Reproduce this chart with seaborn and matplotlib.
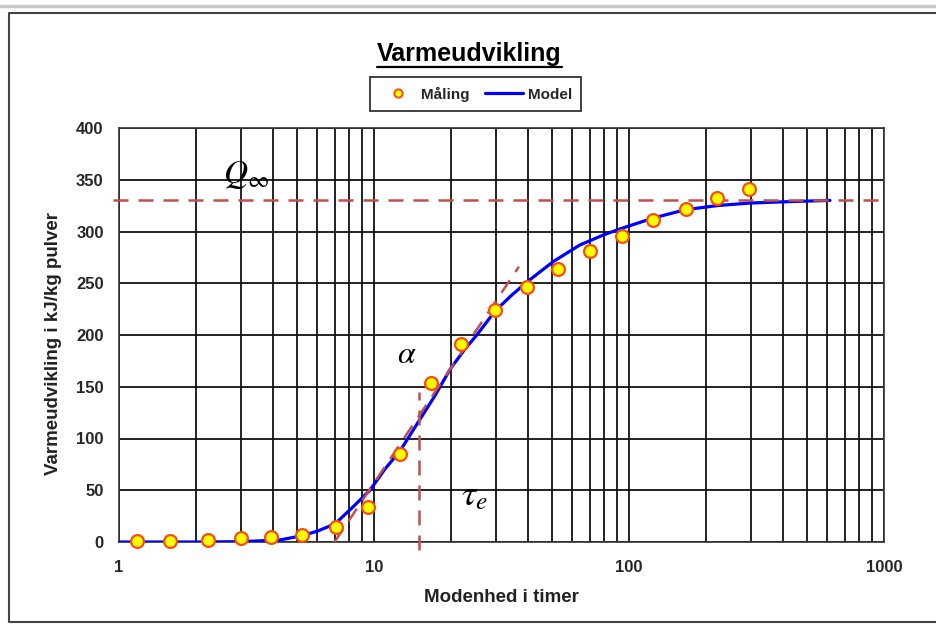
import matplotlib
matplotlib.use("Agg")
import matplotlib.pyplot as plt
from matplotlib.lines import Line2D
from matplotlib.ticker import LogLocator, FixedLocator, NullFormatter
import numpy as np
import pandas as pd
import seaborn as sns

# Measured heat development (maturity in hours, kJ/kg powder)
maling_t = [1.18, 1.58, 2.24, 3.0, 3.93, 5.23, 7.1, 9.45, 12.6, 16.7, 21.9,
            29.8, 39.7, 52.8, 70.3, 93.5, 124.5, 167, 222, 296]
maling_q = [1, 1, 2, 4, 5, 7, 14.5, 34, 85, 154, 191,
            224, 246, 264, 281, 296, 311, 322, 332, 341]

# Fitted model curve
model_t = [1.0, 2.0, 3.0, 4.28, 5.2, 6.0, 7.03, 8.2, 9.64, 11.0, 12.65, 15.1,
           17.3, 19.9, 22.5, 25.3, 29.8, 34.5, 39.7, 50.5, 64.2, 80, 93.5,
           124.5, 166, 221, 298, 441, 614]
model_q = [0, 0, 0.3, 2, 6, 10.5, 17.5, 33, 50, 70, 88, 118,
           141, 167, 185, 200, 223, 238, 251, 271, 287, 297, 303,
           313, 321, 325, 327.5, 329, 330]

# Model parameters shown as construction lines
q_inf = 330
tau_e = 15
tangent_t = [7.0, 37.0]
tangent_q = [0, 266]

sns.set_theme(style="white")
plt.rcParams["font.family"] = ["Liberation Sans", "DejaVu Sans"]
plt.rcParams["mathtext.fontset"] = "stix"

W, H = 937, 626
fig = plt.figure(figsize=(W / 100, H / 100), dpi=100)
ax = fig.add_axes([119 / W, 1 - 542 / H, (884 - 119) / W, (542 - 128) / H])

df_model = pd.DataFrame({"t": model_t, "q": model_q})
df_maal = pd.DataFrame({"t": maling_t, "q": maling_q})

ax.set_xscale("log")
sns.lineplot(data=df_model, x="t", y="q", ax=ax, color="#0000FF", lw=2.3,
             sort=False, zorder=3, legend=False)

dash_col = "#C0504D"
ax.plot([0.95, 1000], [q_inf, q_inf], color=dash_col, lw=1.8,
        dashes=(6, 4), zorder=4, clip_on=False)
ax.plot([tau_e, tau_e], [-8, 145], color=dash_col, lw=1.8,
        dashes=(6, 4), zorder=4, clip_on=False)
ax.plot(tangent_t, tangent_q, color=dash_col, lw=1.8,
        dashes=(6, 4), zorder=4, clip_on=False)

sns.scatterplot(data=df_maal, x="t", y="q", ax=ax, marker="o", s=85,
                color="#FFFF00", edgecolor="#FF4A10", linewidth=1.6,
                zorder=5, legend=False, clip_on=False)

ax.set_xlim(1, 1000)
ax.set_ylim(0, 400)
ax.set_yticks(np.arange(0, 401, 50))
ax.xaxis.set_major_locator(FixedLocator([1, 10, 100, 1000]))
ax.set_xticklabels(["1", "10", "100", "1000"])
ax.xaxis.set_minor_locator(LogLocator(base=10, subs=np.arange(2, 10)))
ax.xaxis.set_minor_formatter(NullFormatter())

ax.grid(True, which="both", axis="x", color="#111111", lw=1.3)
ax.grid(True, which="major", axis="y", color="#111111", lw=1.3)
ax.set_axisbelow(True)
for s in ax.spines.values():
    s.set_color("#333333")
    s.set_linewidth(1.2)

ax.tick_params(axis="both", which="both", length=0)
ax.tick_params(axis="x", pad=13, labelsize=12)
ax.tick_params(axis="y", pad=11, labelsize=12)
for lab in ax.get_xticklabels() + ax.get_yticklabels():
    lab.set_fontweight("bold")

ax.set_xlabel("Modenhed i timer", fontsize=13.5, fontweight="bold",
              color="#222222", labelpad=10)
ax.set_ylabel("Varmeudvikling i kJ/kg pulver", fontsize=13.5,
              fontweight="bold", color="#222222")
ax.yaxis.set_label_coords(-0.0745, 0.48)

# Symbols of the model
ax.text(2.56, 347, r"$Q_\infty$", fontsize=24, color="black", zorder=6)
ax.text(12.3, 173, r"$\alpha$", fontsize=23, color="black", zorder=6)
ax.text(22.0, 36, r"$\tau_e$", fontsize=26, color="black", zorder=6)

# Legend
handles = [
    Line2D([], [], ls="none", marker="o", markersize=6,
           markerfacecolor="#FFFF00", markeredgecolor="#FF4A10",
           markeredgewidth=1.4, label="Måling"),
    Line2D([], [], color="#0000FF", lw=2.3, label="Model"),
]
leg = fig.legend(handles=handles, loc="center", bbox_to_anchor=(475.5 / W, 1 - 94 / H),
                 ncol=2, frameon=True, fancybox=False, edgecolor="black",
                 handlelength=2.5, handletextpad=0.3, columnspacing=1.0,
                 borderpad=0.6, prop={"weight": "bold", "size": 11})
leg.get_frame().set_linewidth(1.3)

# Title with underline
title = fig.text(469.5 / W, 1 - 60.7 / H, "Varmeudvikling", fontsize=18,
                 fontweight="bold", ha="center", va="baseline", color="black")
fig.canvas.draw()
bb = title.get_window_extent().transformed(fig.transFigure.inverted())
fig.add_artist(Line2D([bb.x0, bb.x1], [1 - 66.5 / H] * 2, color="black",
                      lw=1.6, transform=fig.transFigure))

# Outer frame
fig.add_artist(Line2D([0, 1], [1 - 6 / H] * 2, color="#c8c8c8", lw=2.5,
                      transform=fig.transFigure))
fig.add_artist(Line2D([1.02, 9 / W, 9 / W, 1.02],
                      [1 - 13 / H, 1 - 13 / H, 1 - 622 / H, 1 - 622 / H],
                      color="#444444", lw=1.5, transform=fig.transFigure,
                      clip_on=False))

fig.savefig("out.png", dpi=100)
